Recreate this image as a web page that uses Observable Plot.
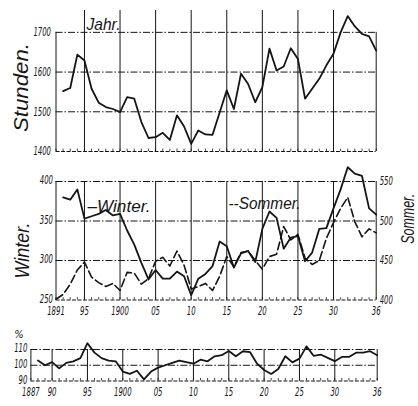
<!DOCTYPE html>
<html>
<head>
<meta charset="utf-8">
<script src="https://cdn.jsdelivr.net/npm/d3@7"></script>
<script src="https://cdn.jsdelivr.net/npm/@observablehq/plot@0.6"></script>
<style>
  body { margin: 0; background: #fff; }
  #chart { position: relative; width: 418px; height: 406px; background: #fff; }
  #chart > svg { position: absolute; left: 0; }
</style>
</head>
<body>
<div id="chart"></div>
<script>
// Annual working hours (Jahr), 1892–1936
const jahrStart = 1892;
const jahrHours = [1552, 1560, 1644, 1629, 1558, 1523, 1512, 1507, 1499, 1537,
  1533, 1474, 1434, 1436, 1447, 1429, 1491, 1463, 1419, 1453,
  1443, 1442, 1498, 1554, 1507, 1596, 1570, 1524, 1562, 1659,
  1604, 1614, 1660, 1633, 1533, 1558, 1583, 1617, 1646, 1700,
  1741, 1715, 1696, 1690, 1654];

// Winter hours (left scale), 1892–1936
const winterStart = 1892;
const winterHours = [380, 377, 390, 353, 356, 359, 364, 357, 359, 338,
  320, 297, 276, 288, 277, 277, 286, 280, 256, 277,
  283, 293, 324, 318, 291, 309, 312, 298, 340, 362,
  354, 315, 329, 331, 299, 310, 340, 341, 366, 390,
  418, 410, 407, 366, 358];

// Summer hours (right scale), 1891–1936
const sommerStart = 1891;
const sommerHours = [401, 407, 420, 438, 448, 429, 422, 417, 421, 412,
  435, 434, 420, 427, 449, 454, 443, 462, 444, 414,
  417, 421, 412, 430, 455, 442, 460, 462, 450, 439,
  455, 458, 493, 476, 483, 453, 445, 450, 478, 498,
  516, 530, 499, 480, 490, 485];
const sommerOffset = 150; // right axis 400–550 sits on left axis 250–400

// Percentage series, 1888–1936
const pctStart = 1888;
const pctValues = [103, 100, 102, 98, 101.5, 102.5, 104.5, 114, 108, 104.5,
  103, 102.5, 96, 94.5, 96.5, 91, 96, 98.5, 100, 101.5,
  103, 102, 101, 103.5, 102.5, 105.7, 106.4, 109, 105.7, 108.9,
  108.4, 101, 97, 94.5, 97.6, 105.7, 101.8, 104.2, 112, 106,
  106.8, 104.7, 102.6, 105.3, 105.3, 108, 108, 108.9, 106.4];

// Ticks and labels
const topYTicks = [1400, 1500, 1600, 1700];
const midYTicks = [250, 300, 350, 400];
const sommerTicks = [400, 450, 500, 550];
const lowYTicks = [90, 100, 110];
const gridYears = [1895, 1900, 1905, 1910, 1915, 1920, 1925, 1930];
const lowGridYears = [1890, 1895, 1900, 1905, 1910, 1915, 1920, 1925, 1930];
const midXTicks = [1891, 1895, 1900, 1905, 1910, 1915, 1920, 1925, 1930, 1936];
const midXLabels = ["1891", "95", "1900", "05", "10", "15", "20", "25", "30", "36"];
const lowXTicks = [1887, 1890, 1895, 1900, 1905, 1910, 1915, 1920, 1925, 1930, 1936];
const lowXLabels = ["1887", "90", "95", "1900", "05", "10", "15", "20", "25", "30", "36"];

const rows = (start, values) => values.map((value, i) => ({year: start + i, value}));
const jahr = rows(jahrStart, jahrHours);
const winter = rows(winterStart, winterHours);
const sommer = rows(sommerStart, sommerHours);
const pct = rows(pctStart, pctValues);
const yearsBetween = (a, b) => d3.range(a, b + 1);

const W = 418;
const ink = "#151515";
const numFont = {fontFamily: "'Liberation Sans Narrow', 'DejaVu Sans Condensed', sans-serif", fontStyle: "italic", fontSize: 12, fill: ink};
const wordFont = {fontFamily: "'Liberation Sans Narrow', 'Liberation Sans', sans-serif", fontStyle: "italic", fill: ink};
const gridV = {stroke: ink, strokeWidth: 1};
const gridH = {stroke: ink, strokeWidth: 1, strokeDasharray: "7,2,1.5,2"};
const axisH = {stroke: ink, strokeWidth: 1, strokeDasharray: "4,1.5"};
const curve = {stroke: ink, strokeWidth: 1.8, strokeLinejoin: "round"};
const base = {width: W, style: {background: "transparent", overflow: "visible"}};

// Top: annual hours
const topPlot = Plot.plot({
  ...base, height: 165,
  marginLeft: 55.5, marginRight: 42.3, marginTop: 10, marginBottom: 14,
  x: {domain: [1891, 1936], axis: null},
  y: {domain: [1400, 1755], axis: null},
  marks: [
    Plot.ruleX(gridYears, {y1: 1400, y2: 1755, ...gridV}),
    Plot.ruleX([1891, 1936], {y1: 1400, y2: 1700, ...gridV}),
    Plot.ruleY([1500, 1600, 1700], gridH),
    Plot.ruleY([1400], axisH),
    Plot.ruleX(yearsBetween(1891, 1936), {y1: 1400, y2: 1406, stroke: ink, strokeWidth: 0.8}),
    Plot.lineY(jahr, {x: "year", y: "value", ...curve}),
    Plot.text(topYTicks, {y: d => d, frameAnchor: "left", dx: -5, textAnchor: "end", text: d => String(d), ...numFont}),
    Plot.text(["Stunden."], {frameAnchor: "left", dx: -34.5, dy: 6.5, rotate: -90, textAnchor: "middle", fontSize: 21, ...wordFont}),
    Plot.text(["Jahr."], {frameAnchor: "top-left", dx: 30.5, dy: 7, textAnchor: "start", fontSize: 17, ...wordFont})
  ]
});

// Middle: winter (left scale) and summer (right scale)
const midPlot = Plot.plot({
  ...base, height: 160,
  marginLeft: 55.5, marginRight: 42.3, marginTop: 16, marginBottom: 25.5,
  x: {domain: [1891, 1936], axis: null},
  y: {domain: [250, 400], axis: null},
  marks: [
    Plot.ruleX(gridYears, {y1: 250, y2: 400, ...gridV}),
    Plot.ruleX([1891, 1936], {y1: 250, y2: 400, ...gridV}),
    Plot.ruleY([300, 350, 400], gridH),
    Plot.ruleY([250], axisH),
    Plot.ruleX(yearsBetween(1891, 1936), {y1: 250, y2: 253, stroke: ink, strokeWidth: 0.8}),
    Plot.lineY(sommer, {x: "year", y: d => d.value - sommerOffset, ...curve, strokeWidth: 1.6, strokeDasharray: "8,3.5"}),
    Plot.lineY(winter, {x: "year", y: "value", ...curve}),
    Plot.text(midYTicks, {y: d => d, frameAnchor: "left", dx: -3, dy: -1, textAnchor: "end", text: d => String(d), ...numFont}),
    Plot.text(sommerTicks, {y: d => d - sommerOffset, frameAnchor: "right", dx: 3.5, textAnchor: "start", text: d => String(d), ...numFont}),
    Plot.text(midXTicks.map((x, i) => ({x, label: midXLabels[i]})), {x: "x", text: "label", frameAnchor: "bottom", dy: 15, ...numFont}),
    Plot.text(["Winter."], {frameAnchor: "left", dx: -33.5, dy: 9.75, rotate: -90, textAnchor: "middle", fontSize: 21, ...wordFont}),
    Plot.text(["Sommer."], {frameAnchor: "right", dx: 31.5, dy: -22, rotate: -90, textAnchor: "middle", fontSize: 19, ...wordFont}),
    Plot.text(["\u2013Winter."], {frameAnchor: "top-left", dx: 31.5, dy: 18, textAnchor: "start", fontSize: 17, ...wordFont}),
    Plot.text(["--Sommer."], {frameAnchor: "top-left", dx: 172.5, dy: 15.5, textAnchor: "start", fontSize: 17, ...wordFont})
  ]
});

// Bottom: percentage
const lowPlot = Plot.plot({
  ...base, height: 81,
  marginLeft: 30.4, marginRight: 41.3, marginTop: 24, marginBottom: 25.5,
  x: {domain: [1887, 1936], axis: null},
  y: {domain: [90, 110], axis: null},
  marks: [
    Plot.ruleX(lowGridYears, {y1: 90, y2: 110, ...gridV}),
    Plot.ruleX([1887, 1936], {y1: 90, y2: 110, ...gridV}),
    Plot.ruleY([100, 110], gridH),
    Plot.ruleY([90], axisH),
    Plot.ruleX(yearsBetween(1887, 1936), {y1: 90, y2: 91.6, stroke: ink, strokeWidth: 0.8}),
    Plot.lineY(pct, {x: "year", y: "value", ...curve}),
    Plot.text(lowYTicks, {y: d => d, frameAnchor: "left", dx: -3.5, dy: -1, textAnchor: "end", text: d => String(d), ...numFont}),
    Plot.text(lowXTicks.map((x, i) => ({x, label: lowXLabels[i]})), {x: "x", text: "label", frameAnchor: "bottom", dy: 15, ...numFont}),
    Plot.text(["%"], {frameAnchor: "top-left", dx: -12, dy: -19, textAnchor: "middle", ...numFont, fontSize: 11})
  ]
});

// Condensed lettering: fit each label to its drawn width
const textWidths = new Map([
  ["Stunden.", 89], ["Winter.", 56], ["Sommer.", 50],
  ["\u2013Winter.", 63], ["--Sommer.", 72], ["Jahr.", 34]
]);
function fitText(svg) {
  svg.querySelectorAll("text").forEach(t => {
    const s = t.textContent;
    const w = textWidths.get(s) ?? (/^\d+$/.test(s) ? s.length * 4.4 : null);
    if (w) {
      t.setAttribute("textLength", w);
      t.setAttribute("lengthAdjust", "spacingAndGlyphs");
    }
  });
}

const chart = document.getElementById("chart");
[[topPlot, 0], [midPlot, 165], [lowPlot, 325]].forEach(([svg, top]) => {
  fitText(svg);
  svg.style.top = top + "px";
  chart.appendChild(svg);
});
</script>
</body>
</html>
